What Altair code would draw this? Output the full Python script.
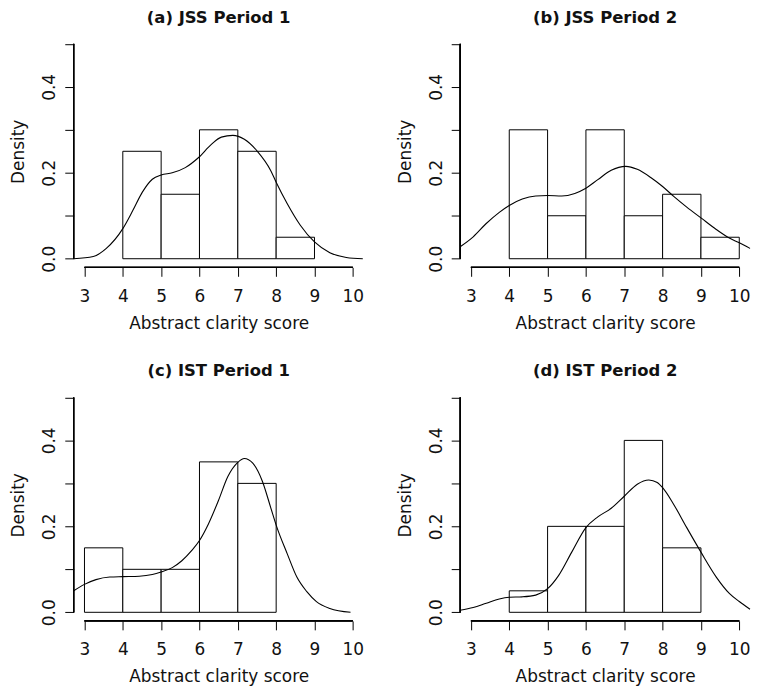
import altair as alt
import pandas as pd

# ---------------- data ----------------
titles = ["(a) JSS Period 1", "(b) JSS Period 2", "(c) IST Period 1", "(d) IST Period 2"]
x_label = "Abstract clarity score"
y_label = "Density"

x_ticks = [3, 4, 5, 6, 7, 8, 9, 10]
y_ticks = [0.0, 0.1, 0.2, 0.3, 0.4, 0.5]
x_domain = [2.72, 10.28]
y_domain = [-0.02, 0.52]

# histogram bin edges and densities
edges_a = [4, 5, 6, 7, 8, 9]
dens_a = [0.25, 0.15, 0.30, 0.25, 0.05]
edges_b = [4, 5, 6, 7, 8, 9, 10]
dens_b = [0.30, 0.10, 0.30, 0.10, 0.15, 0.05]
edges_c = [3, 4, 5, 6, 7, 8]
dens_c = [0.15, 0.10, 0.10, 0.35, 0.30]
edges_d = [4, 5, 6, 7, 8, 9]
dens_d = [0.05, 0.20, 0.20, 0.40, 0.15]

# density curves
curve_x_a = [2.72, 3.23, 3.57, 4.0, 4.26, 4.51, 4.77, 5.0, 5.29, 5.63, 5.97, 6.31, 6.57, 6.87,
             7.17, 7.51, 7.86, 8.0, 8.29, 8.63, 9.0, 9.4, 9.83, 10.26]
curve_y_a = [0.0, 0.005, 0.024, 0.07, 0.112, 0.155, 0.185, 0.195, 0.20, 0.212, 0.235, 0.266, 0.283, 0.287,
             0.278, 0.25, 0.205, 0.178, 0.128, 0.078, 0.039, 0.014, 0.003, 0.0]

curve_x_b = [2.72, 3.06, 3.40, 3.74, 4.0, 4.34, 4.69, 5.0, 5.37, 5.71, 6.0, 6.31, 6.66, 7.04,
             7.34, 7.69, 8.0, 8.29, 8.63, 9.0, 9.4, 9.74, 10.0, 10.28]
curve_y_b = [0.028, 0.051, 0.082, 0.108, 0.124, 0.139, 0.146, 0.147, 0.146, 0.152, 0.164, 0.184, 0.206, 0.215,
             0.208, 0.189, 0.168, 0.145, 0.12, 0.095, 0.068, 0.048, 0.037, 0.024]

curve_x_c = [2.72, 3.0, 3.3, 3.66, 4.0, 4.43, 4.77, 5.0, 5.29, 5.54, 5.8, 6.0, 6.23, 6.49, 6.74,
             7.0, 7.17, 7.39, 7.64, 7.86, 8.0, 8.29, 8.54, 8.8, 9.05, 9.4, 9.94]
curve_y_c = [0.05, 0.065, 0.076, 0.082, 0.083, 0.084, 0.088, 0.094, 0.104, 0.12, 0.144, 0.167, 0.205, 0.259, 0.316,
             0.349, 0.358, 0.347, 0.305, 0.243, 0.203, 0.136, 0.082, 0.048, 0.025, 0.009, 0.0]

curve_x_d = [2.72, 3.06, 3.4, 3.74, 4.0, 4.34, 4.69, 5.0, 5.29, 5.63, 6.0, 6.31, 6.66, 7.0,
             7.34, 7.64, 7.86, 8.0, 8.29, 8.63, 9.0, 9.4, 9.74, 10.0, 10.28]
curve_y_d = [0.0046, 0.011, 0.021, 0.031, 0.035, 0.036, 0.04, 0.055, 0.086, 0.14, 0.197, 0.222, 0.242, 0.27,
             0.298, 0.308, 0.302, 0.29, 0.251, 0.197, 0.14, 0.082, 0.044, 0.025, 0.007]

# ---------------- layout ----------------
W, H = 291, 233
FONT = "DejaVu Sans"
INK = "#111111"


def panel(title, edges, dens, cx, cy):
    xs = alt.Scale(domain=x_domain, nice=False, zero=False)
    ys = alt.Scale(domain=y_domain, nice=False, zero=False)
    xaxis = alt.Axis(values=x_ticks, domain=False, grid=False, tickSize=9, tickColor="black",
                     tickWidth=1, labelFontSize=17, labelFont=FONT, labelColor=INK,
                     labelBaseline="alphabetic", labelPadding=25, labelFlush=False,
                     labelOverlap=False, title=x_label, titleFontSize=17, titleFont=FONT,
                     titleFontWeight="normal", titleColor=INK, titleBaseline="alphabetic",
                     titleAlign="center", titleX=W / 2, titleY=61)
    yaxis = alt.Axis(values=y_ticks, domain=False, grid=False, tickSize=9, tickColor="black",
                     tickWidth=1, labelFontSize=17, labelFont=FONT, labelColor=INK,
                     labelExpr="(round(datum.value*10) % 2 == 0) ? format(datum.value, '.1f') : ''",
                     labelAngle=270, labelAlign="center", labelBaseline="alphabetic",
                     labelPadding=10, labelFlush=False, labelOverlap=False,
                     title=y_label, titleFontSize=17, titleFont=FONT, titleFontWeight="normal",
                     titleColor=INK, titleAngle=270, titleBaseline="alphabetic",
                     titleAlign="center", titleX=-50, titleY=H / 2)

    bars_df = pd.DataFrame({"lo": edges[:-1], "hi": edges[1:], "dens": dens,
                            "base": [0.0] * len(dens)})
    curve_df = pd.DataFrame({"cx": cx, "cy": cy})

    bars = alt.Chart(bars_df).mark_rect(fill="white", stroke="black", strokeWidth=1).encode(
        x=alt.X("lo:Q", scale=xs, axis=xaxis),
        x2="hi:Q",
        y=alt.Y("dens:Q", scale=ys, axis=yaxis),
        y2="base:Q",
    )
    curve = alt.Chart(curve_df).mark_line(color="black", strokeWidth=1.1,
                                          interpolate="monotone").encode(
        x=alt.X("cx:Q", scale=xs, axis=xaxis),
        y=alt.Y("cy:Q", scale=ys, axis=yaxis),
        order="cx:Q",
    )
    xline = alt.Chart(bars_df).mark_rule(color="black", strokeWidth=1).encode(
        x=alt.datum(x_ticks[0]), x2=alt.datum(x_ticks[-1]), y=alt.datum(y_domain[0]))
    yline = alt.Chart(bars_df).mark_rule(color="black", strokeWidth=1).encode(
        y=alt.datum(y_ticks[0]), y2=alt.datum(y_ticks[-1]), x=alt.datum(x_domain[0]))

    return alt.layer(bars, curve, xline, yline).properties(
        width=W, height=H,
        title=alt.TitleParams(text=title, fontSize=16.5, font=FONT, fontWeight="bold",
                              color=INK, baseline="alphabetic", offset=-4,
                              anchor="middle", frame="group"),
    )


panels = [
    panel(titles[0], edges_a, dens_a, curve_x_a, curve_y_a),
    panel(titles[1], edges_b, dens_b, curve_x_b, curve_y_b),
    panel(titles[2], edges_c, dens_c, curve_x_c, curve_y_c),
    panel(titles[3], edges_d, dens_d, curve_x_d, curve_y_d),
]

chart = alt.concat(
    *panels, columns=2, bounds="flush",
    spacing=alt.RowColnumber(row=122, column=97),
).properties(
    padding={"left": 2, "top": 0, "right": 0, "bottom": 0},
    background="white",
).configure(font=FONT).configure_view(stroke=None)

chart.save("out.html", embed_options={"renderer": "svg", "actions": False})
